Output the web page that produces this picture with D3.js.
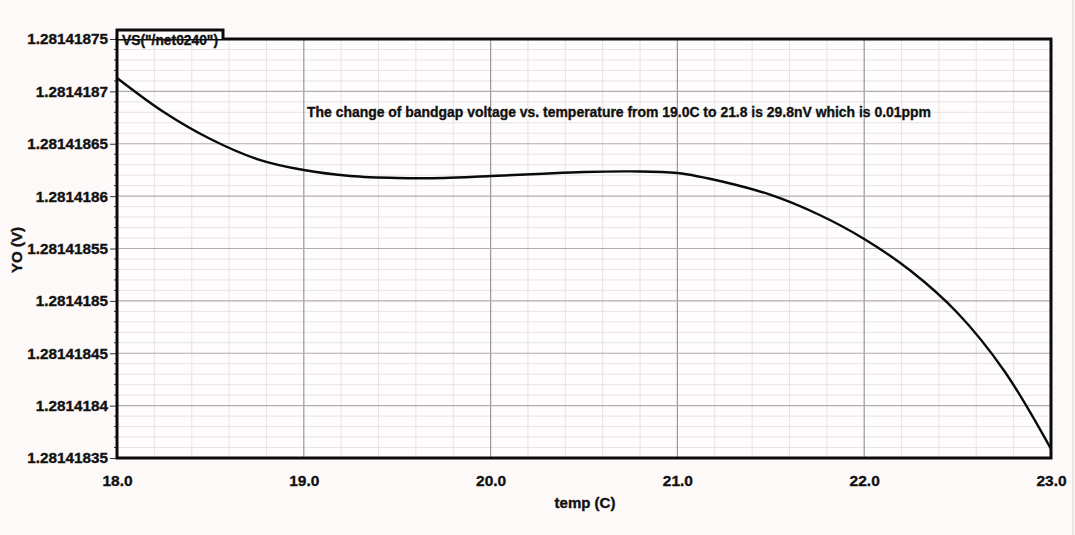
<!DOCTYPE html>
<html>
<head>
<meta charset="utf-8">
<script src="https://cdn.jsdelivr.net/npm/d3@7/dist/d3.min.js"></script>
<style>
  html, body { margin: 0; padding: 0; background: #fdf9f9; }
  svg { display: block; }
  text { font-family: "Liberation Sans", Arial, Helvetica, sans-serif; font-weight: bold; fill: #111;
         stroke: #111; stroke-width: 0.35px; }
</style>
</head>
<body>
<svg id="chart" width="1075" height="535"></svg>
<script>
// Bandgap reference output vs. temperature
const temps = [18.0, 18.25, 18.5, 18.75, 19.0, 19.25, 19.5, 19.75, 20.0, 20.25, 20.5, 20.75,
               21.0, 21.25, 21.5, 21.75, 22.0, 22.25, 22.5, 22.75, 23.0];
const volts = [1.2814187128, 1.2814186803, 1.2814186545, 1.2814186354, 1.2814186249, 1.2814186192,
               1.2814186173, 1.2814186173, 1.2814186192, 1.2814186211, 1.2814186230, 1.2814186236,
               1.2814186221, 1.2814186135, 1.2814186011, 1.2814185829, 1.2814185591, 1.2814185285,
               1.2814184884, 1.2814184331, 1.2814183586];

const xTicks = [18, 19, 20, 21, 22, 23];
const xTickLabels = ["18.0", "19.0", "20.0", "21.0", "22.0", "23.0"];
const yTicks = [1.28141835, 1.2814184, 1.28141845, 1.2814185, 1.28141855, 1.2814186, 1.28141865, 1.2814187, 1.28141875];
const yTickLabels = ["1.28141835", "1.2814184", "1.28141845", "1.2814185", "1.28141855", "1.2814186", "1.28141865", "1.2814187", "1.28141875"];

const traceName = "VS(\"/net0240\")";
const xTitle = "temp (C)";
const yTitle = "YO (V)";
const note = "The change of bandgap voltage vs. temperature from 19.0C to 21.8 is 29.8nV which is 0.01ppm";

const svg = d3.select("#chart");
const plotL = 117, plotR = 1051, plotT = 39, plotB = 458;

const x = d3.scaleLinear().domain([18, 23]).range([plotL, plotR]);
const y = d3.scaleLinear().domain([1.28141835, 1.28141875]).range([plotB, plotT]);

// page edge
svg.append("line").attr("x1", 1073).attr("x2", 1073).attr("y1", 0).attr("y2", 535)
  .attr("stroke", "#d8d4d4").attr("stroke-width", 1);

// plot background
svg.append("rect").attr("x", plotL).attr("y", plotT).attr("width", plotR - plotL).attr("height", plotB - plotT)
  .attr("fill", "#fefcfc");

// minor grid: five subdivisions per major step
const sub = 5;
const xMinor = [], yMinor = [];
for (let i = 0; i < xTicks.length - 1; i++)
  for (let k = 1; k < sub; k++) xMinor.push(x(xTicks[i]) + (x(xTicks[i + 1]) - x(xTicks[i])) * k / sub);
for (let i = 0; i < yTicks.length - 1; i++)
  for (let k = 1; k < sub; k++) yMinor.push(y(yTicks[i]) + (y(yTicks[i + 1]) - y(yTicks[i])) * k / sub);

const grid = svg.append("g");
grid.selectAll(".vm").data(xMinor).join("line")
  .attr("x1", d => d).attr("x2", d => d).attr("y1", plotT).attr("y2", plotB)
  .attr("stroke", "#e6e3e3").attr("stroke-width", 1);
grid.selectAll(".hm").data(yMinor).join("line")
  .attr("x1", plotL).attr("x2", plotR).attr("y1", d => d).attr("y2", d => d)
  .attr("stroke", "#e6e3e3").attr("stroke-width", 1);
grid.selectAll(".vM").data(xTicks.slice(1, -1)).join("line")
  .attr("x1", d => x(d)).attr("x2", d => x(d)).attr("y1", plotT).attr("y2", plotB)
  .attr("stroke", "#9a9898").attr("stroke-width", 1.2);
grid.selectAll(".hM").data(yTicks.slice(1, -1)).join("line")
  .attr("x1", plotL).attr("x2", plotR).attr("y1", d => y(d)).attr("y2", d => y(d))
  .attr("stroke", "#b0adad").attr("stroke-width", 1.2);

// left axis minor tick marks
svg.append("g").selectAll("line").data(yMinor).join("line")
  .attr("x1", plotL - 3).attr("x2", plotL).attr("y1", d => d).attr("y2", d => d)
  .attr("stroke", "#333").attr("stroke-width", 1);

// axes
const yAxis = d3.axisLeft(y).tickValues(yTicks).tickSize(7).tickPadding(2)
  .tickFormat((d, i) => yTickLabels[i]);
const gy = svg.append("g").attr("transform", `translate(${plotL},0)`).call(yAxis);
gy.select(".domain").remove();
gy.selectAll(".tick line").attr("stroke", "#333").attr("stroke-width", 1);
gy.selectAll(".tick text").style("font-size", "15.3px").style("font-weight", "bold")
  .style("font-family", "Liberation Sans, Arial, sans-serif").attr("fill", "#111");

const xAxis = d3.axisBottom(x).tickValues(xTicks).tickSize(0).tickPadding(17)
  .tickFormat((d, i) => xTickLabels[i]);
const gx = svg.append("g").attr("transform", `translate(0,${plotB})`).call(xAxis);
gx.select(".domain").remove();
gx.selectAll(".tick text").style("font-size", "15.5px").style("font-weight", "bold")
  .style("font-family", "Liberation Sans, Arial, sans-serif").attr("fill", "#111");

// trace
const line = d3.line().x((d, i) => x(temps[i])).y(d => y(d)).curve(d3.curveCatmullRom.alpha(0.5));
svg.append("path").datum(volts).attr("d", line)
  .attr("fill", "none").attr("stroke", "#0a0a0a").attr("stroke-width", 2.4);

// frame with trace tab at the top-left
svg.append("rect").attr("x", plotL).attr("y", plotT).attr("width", plotR - plotL).attr("height", plotB - plotT)
  .attr("fill", "none").attr("stroke", "#0a0a0a").attr("stroke-width", 3);
svg.append("path").attr("d", `M${plotL},${plotT} V30 H223 V${plotT}`)
  .attr("fill", "#fefcfc").attr("stroke", "#0a0a0a").attr("stroke-width", 3);
svg.append("text").attr("x", 122).attr("y", 45).style("font-size", "14px")
  .attr("textLength", 96).attr("lengthAdjust", "spacingAndGlyphs").text(traceName);

// annotation
svg.append("text").attr("x", 307).attr("y", 117).style("font-size", "15px")
  .attr("textLength", 624).attr("lengthAdjust", "spacingAndGlyphs").text(note);

// axis titles
svg.append("text").attr("x", 585).attr("y", 508).attr("text-anchor", "middle")
  .style("font-size", "15px").text(xTitle);
svg.append("text").attr("transform", "translate(22,250) rotate(-90)").attr("text-anchor", "middle")
  .style("font-size", "15px").text(yTitle);
</script>
</body>
</html>
